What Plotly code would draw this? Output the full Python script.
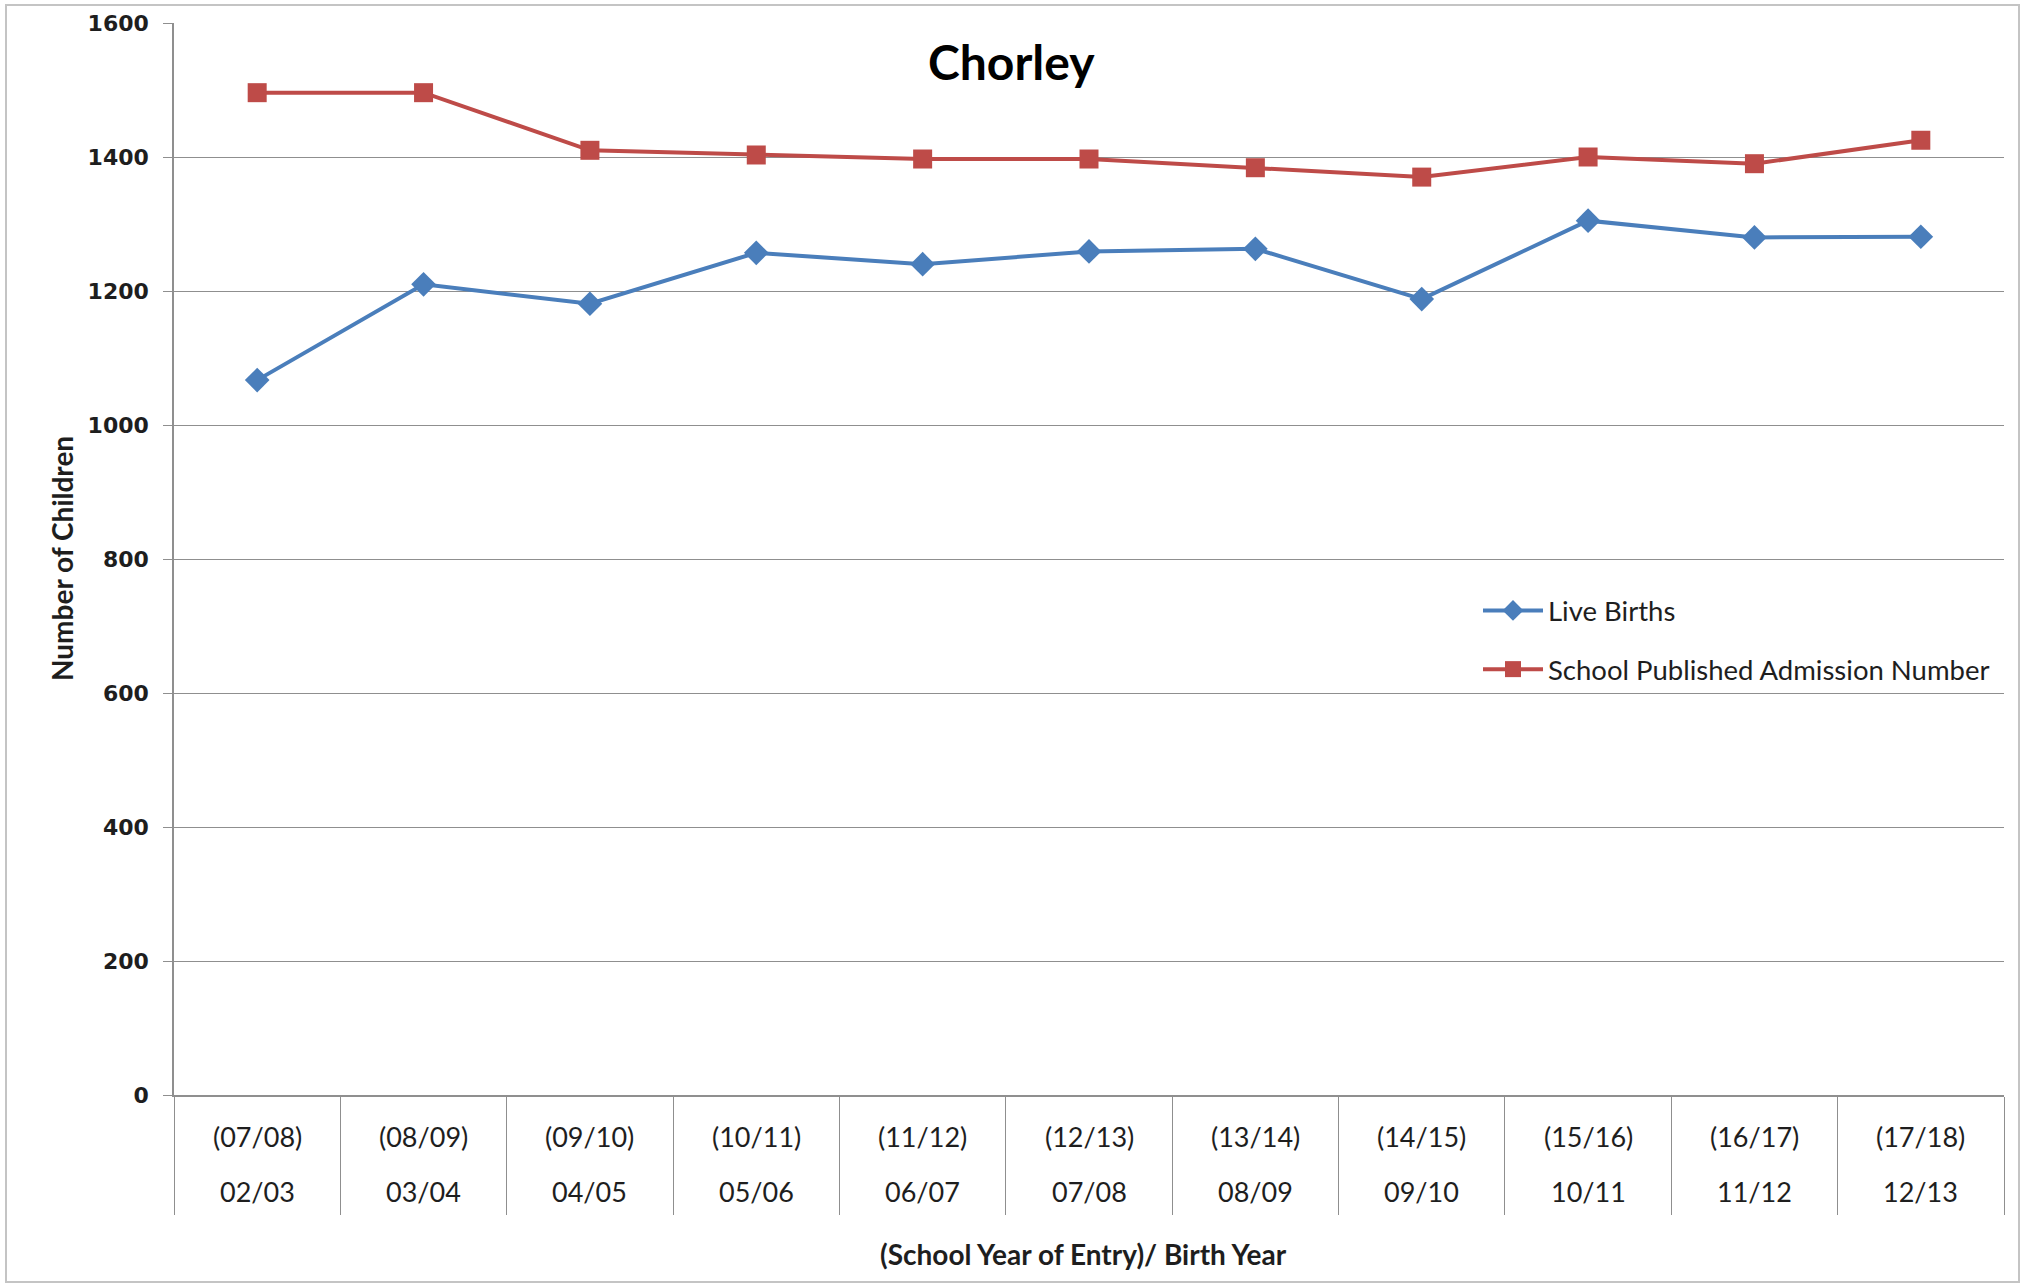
import plotly.graph_objects as go

# ---- data ----
school_years = ["(07/08)", "(08/09)", "(09/10)", "(10/11)", "(11/12)", "(12/13)",
                "(13/14)", "(14/15)", "(15/16)", "(16/17)", "(17/18)"]
birth_years = ["02/03", "03/04", "04/05", "05/06", "06/07", "07/08",
               "08/09", "09/10", "10/11", "11/12", "12/13"]
live_births = [1067, 1210, 1181, 1257, 1240, 1259, 1263, 1188, 1305, 1280, 1281]
admission_number = [1496, 1496, 1410, 1403, 1397, 1397, 1384, 1370, 1400, 1390, 1425]
y_ticks = [0, 200, 400, 600, 800, 1000, 1200, 1400, 1600]

# ---- layout geometry (pixels) ----
W, H = 2026, 1285
L, R, T, B = 174, 22, 23, 190
PW, PH = W - L - R, H - T - B

def px_x(x):
    return (x - L) / PW

def px_y(y):
    return (H - B - y) / PH

BLUE = "#4a7ebb"
RED = "#be4b48"
GRID = "#8f8f8f"
TXT = "#1e1e1e"

fig = go.Figure()
fig.add_trace(go.Scatter(
    x=birth_years, y=live_births, name="Live Births", mode="lines+markers",
    line=dict(color=BLUE, width=4),
    marker=dict(symbol="diamond", size=19, color=BLUE),
    legendgroup="a"))
fig.add_trace(go.Scatter(
    x=birth_years, y=admission_number, name="School Published Admission Number",
    mode="lines+markers",
    line=dict(color=RED, width=4),
    marker=dict(symbol="square", size=19, color=RED),
    legendgroup="b"))

annotations = []
for sy, by in zip(school_years, birth_years):
    annotations.append(dict(x=by, xref="x", y=px_y(1136), yref="paper",
                            text=sy, showarrow=False, yanchor="middle",
                            font=dict(family="Lato", size=27, color=TXT)))
    annotations.append(dict(x=by, xref="x", y=px_y(1191), yref="paper",
                            text=by, showarrow=False, yanchor="middle",
                            font=dict(family="Lato", size=27, color=TXT)))
annotations.append(dict(x=px_x(1011), xref="paper", y=px_y(62), yref="paper",
                        text="<b>Chorley</b>", showarrow=False, yanchor="middle",
                        font=dict(family="Lato", size=48, color="#000000")))
annotations.append(dict(x=px_x(1083), xref="paper", y=px_y(1254), yref="paper",
                        text="<b>(School Year of Entry)/ Birth Year</b>", showarrow=False,
                        yanchor="middle",
                        font=dict(family="Lato", size=28, color=TXT)))
annotations.append(dict(x=px_x(62), xref="paper", y=px_y(559), yref="paper",
                        text="<b>Number of Children</b>", showarrow=False, textangle=-90,
                        xanchor="center", yanchor="middle",
                        font=dict(family="Lato", size=28, color=TXT)))

fig.update_layout(
    width=W, height=H,
    margin=dict(l=L, r=R, t=T, b=B, autoexpand=False),
    paper_bgcolor="white", plot_bgcolor="white",
    showlegend=True,
    legend=dict(x=px_x(1478), y=px_y(586), xanchor="left", yanchor="top",
                bgcolor="rgba(0,0,0,0)", traceorder="grouped", tracegroupgap=20,
                itemwidth=60,
                font=dict(family="Lato", size=27.5, color=TXT)),
    annotations=annotations,
    shapes=[dict(type="rect", xref="paper", yref="paper",
                 x0=px_x(6), x1=px_x(2019), y0=px_y(1282), y1=px_y(5),
                 line=dict(color="#c4c4c4", width=2), layer="below")],
    xaxis=dict(type="category", range=[-0.5, len(birth_years) - 0.5],
               showgrid=False, showline=True, linecolor=GRID, linewidth=1.5,
               ticks="outside", tickson="boundaries", ticklen=118,
               tickcolor=GRID, tickwidth=1.2, showticklabels=False,
               zeroline=False, fixedrange=True),
    yaxis=dict(range=[0, 1600], tickvals=y_ticks, showgrid=True, gridcolor=GRID,
               gridwidth=1.2, showline=True, linecolor=GRID, linewidth=1.5,
               ticks="outside", ticklen=9, tickcolor=GRID, tickwidth=1.2,
               ticklabelstandoff=10, zeroline=False,
               tickfont=dict(family="DejaVu Sans", size=22, color=TXT,
                             weight="bold")),
)

fig.write_html("out.html", config={"displayModeBar": False},
               post_script="document.body.style.margin='0';document.body.style.padding='0';")
